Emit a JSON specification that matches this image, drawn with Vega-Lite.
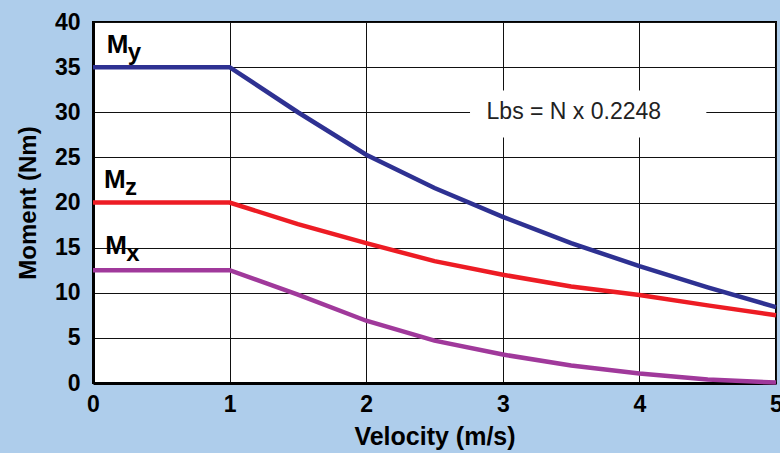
{
  "$schema": "https://vega.github.io/schema/vega-lite/v6.json",
  "width": 683,
  "height": 361,
  "autosize": {"type": "none"},
  "padding": {"left": 93, "top": 22, "right": 4, "bottom": 70},
  "background": "#aecdeb",
  "config": {
    "view": {"stroke": "#000000", "strokeWidth": 2, "fill": "#ffffff"},
    "axis": {
      "labelFont": "Liberation Sans",
      "titleFont": "Liberation Sans",
      "labelFontWeight": "bold",
      "titleFontWeight": "bold",
      "labelFontSize": 23,
      "titleFontSize": 25,
      "labelColor": "#000000",
      "titleColor": "#000000",
      "gridColor": "#111111",
      "gridWidth": 1,
      "gridOpacity": 1,
      "ticks": false,
      "domainColor": "#000000",
      "domainWidth": 3
    }
  },
  "datasets": {
    "lines": [
      {"v": 0, "m": 35, "s": "My"}, {"v": 1, "m": 35, "s": "My"}, {"v": 1.5, "m": 30, "s": "My"}, {"v": 2, "m": 25.3, "s": "My"}, {"v": 2.5, "m": 21.6, "s": "My"}, {"v": 3, "m": 18.4, "s": "My"}, {"v": 3.5, "m": 15.5, "s": "My"}, {"v": 4, "m": 12.95, "s": "My"}, {"v": 4.5, "m": 10.6, "s": "My"}, {"v": 5, "m": 8.4, "s": "My"},
      {"v": 0, "m": 20, "s": "Mz"}, {"v": 1, "m": 20, "s": "Mz"}, {"v": 1.5, "m": 17.6, "s": "Mz"}, {"v": 2, "m": 15.5, "s": "Mz"}, {"v": 2.5, "m": 13.5, "s": "Mz"}, {"v": 3, "m": 12.0, "s": "Mz"}, {"v": 3.5, "m": 10.7, "s": "Mz"}, {"v": 4, "m": 9.75, "s": "Mz"}, {"v": 4.5, "m": 8.6, "s": "Mz"}, {"v": 5, "m": 7.5, "s": "Mz"},
      {"v": 0, "m": 12.5, "s": "Mx"}, {"v": 1, "m": 12.5, "s": "Mx"}, {"v": 1.5, "m": 9.8, "s": "Mx"}, {"v": 2, "m": 6.9, "s": "Mx"}, {"v": 2.5, "m": 4.7, "s": "Mx"}, {"v": 3, "m": 3.15, "s": "Mx"}, {"v": 3.5, "m": 1.95, "s": "Mx"}, {"v": 4, "m": 1.05, "s": "Mx"}, {"v": 4.5, "m": 0.4, "s": "Mx"}, {"v": 5, "m": 0.05, "s": "Mx"}
    ],
    "labels": [
      {"v": 0.1, "m": 37.5, "main": "M", "sub": "y"},
      {"v": 0.08, "m": 22.5, "main": "M", "sub": "z"},
      {"v": 0.09, "m": 15.2, "main": "M", "sub": "x"}
    ]
  },
  "layer": [
    {
      "data": {"values": [{"x1": 2.76, "x2": 4.49, "y1": 27.2, "y2": 32.4}]},
      "mark": {"type": "rect", "fill": "#ffffff"},
      "encoding": {
        "x": {"field": "x1", "type": "quantitative", "scale": {"domain": [0, 5]}, "axis": {"title": "Velocity (m/s)", "values": [0, 1, 2, 3, 4, 5], "grid": true, "labelPadding": 10, "titlePadding": 8, "format": "d", "labelFlush": false}},
        "x2": {"field": "x2"},
        "y": {"field": "y1", "type": "quantitative", "scale": {"domain": [0, 40]}, "axis": {"title": "Moment (Nm)", "titleFontSize": 24, "values": [0, 5, 10, 15, 20, 25, 30, 35, 40], "grid": true, "labelPadding": 13, "titlePadding": 14, "labelFlush": false}},
        "y2": {"field": "y2"}
      }
    },
    {
      "data": {"values": [{"v": 3.52, "m": 30, "t": "Lbs = N x 0.2248"}]},
      "mark": {"type": "text", "font": "Liberation Sans", "fontSize": 23, "color": "#222222", "align": "center", "baseline": "middle"},
      "encoding": {
        "x": {"field": "v", "type": "quantitative"},
        "y": {"field": "m", "type": "quantitative"},
        "text": {"field": "t"}
      }
    },
    {
      "data": {"name": "lines"},
      "mark": {"type": "line", "strokeWidth": 4.5},
      "encoding": {
        "x": {"field": "v", "type": "quantitative"},
        "y": {"field": "m", "type": "quantitative"},
        "color": {"field": "s", "type": "nominal", "scale": {"domain": ["My", "Mz", "Mx"], "range": ["#2e3192", "#ed1c24", "#a0399b"]}, "legend": null}
      }
    },
    {
      "data": {"name": "labels"},
      "mark": {"type": "text", "font": "Liberation Sans", "fontWeight": "bold", "fontSize": 26, "align": "left", "baseline": "middle", "color": "#000000"},
      "encoding": {
        "x": {"field": "v", "type": "quantitative"},
        "y": {"field": "m", "type": "quantitative"},
        "text": {"field": "main"}
      }
    },
    {
      "data": {"name": "labels"},
      "mark": {"type": "text", "font": "Liberation Sans", "fontWeight": "bold", "fontSize": 24, "align": "left", "baseline": "middle", "color": "#000000", "dx": 21, "dy": 8},
      "encoding": {
        "x": {"field": "v", "type": "quantitative"},
        "y": {"field": "m", "type": "quantitative"},
        "text": {"field": "sub"}
      }
    }
  ]
}
